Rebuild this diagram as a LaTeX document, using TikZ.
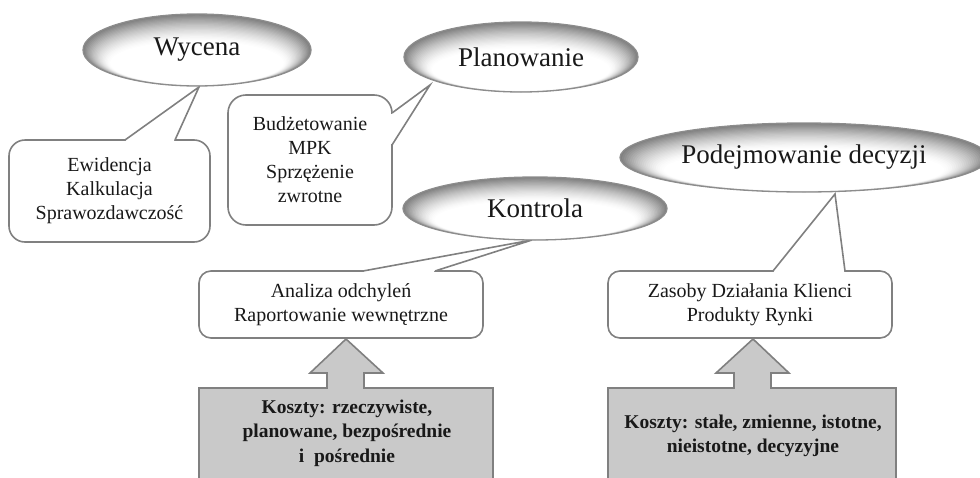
\documentclass[tikz,border=0pt]{standalone}
\usepackage{fontspec}
\setmainfont{Liberation Serif}
\usetikzlibrary{shapes.geometric}
\newcommand\myell[6]{% name, x, y, rx, ry, text
  \begin{scope}
  \clip (#2,#3) ellipse [x radius=#4, y radius=#5];
  \foreach \k in {0,...,24}{
    \pgfmathsetmacro\s{1-\k*0.018}
    \pgfmathsetmacro\sx{1-(1-\s)*0.6}
    \pgfmathsetmacro\c{50*(max(0,(\s-0.6)/0.4))^1.5}
    \fill[black!\c] (#2,{#3+(1-\s)*0.9*#5}) ellipse [x radius={\sx*#4}, y radius={\s*#5}];
  }
  \end{scope}
  \node[ell, minimum width=2*#4, minimum height=2*#5] (#1) at (#2,#3) {#6};
}
\begin{document}
\begin{tikzpicture}[x=1pt,y=-1pt,
  ell/.style={ellipse, draw=black!45, line width=1.3, inner sep=0, font=\fontsize{27}{32}\selectfont, text=black!90},
  cbox/.style={draw=black!50, line width=1.6, fill=white, align=center, inner sep=0, font=\fontsize{20}{24}\selectfont, text=black!90},
  tail/.style={draw=black!50, line width=1.6, line join=miter},
  gblock/.style={draw=black!50, line width=1.6, fill=black!21},
  gtext/.style={align=center, inner sep=0, font=\fontsize{19.5}{24.5}\selectfont\bfseries, text=black!90}]
\useasboundingbox (0,0) rectangle (980,477);
\clip (0,0) rectangle (980,477);

% callout boxes
\node[cbox, minimum width=201, minimum height=102, rounded corners=16] (ewb) at (109.5,191) {Ewidencja\\Kalkulacja\\Sprawozdawczość};
\node[cbox, minimum width=164, minimum height=130, rounded corners=18] (bub) at (310,160) {Budżetowanie\\MPK\\Sprzężenie\\zwrotne};
\node[cbox, minimum width=284, minimum height=67, rounded corners=12] (anb) at (341,304.5) {Analiza odchyleń\\Raportowanie wewnętrzne};
\node[cbox, minimum width=284, minimum height=67, rounded corners=12] (zab) at (750,304.5) {Zasoby Działania Klienci\\Produkty Rynki};

% tails
\coordinate (t1) at (199,87);
\coordinate (t2) at (430,85);
\coordinate (t3) at (532,240);
\coordinate (t4) at (835,194);
\fill[white] (125,140) -- (t1) -- (175,140) -- cycle;
\fill[white] (125.8,139) rectangle (174.2,141);
\draw[tail] (125,140) -- (t1) -- (175,140);
\fill[white] (392,113) -- (t2) -- (392,145) -- cycle;
\fill[white] (391,113.8) rectangle (393,144.2);
\draw[tail] (392,113) -- (t2) -- (392,145);
\fill[white] (363,271) -- (t3) -- (435,271) -- cycle;
\fill[white] (363.8,270) rectangle (434.2,272);
\draw[tail] (363,271) -- (t3) -- (435,271);
\fill[white] (773,271) -- (t4) -- (845,271) -- cycle;
\fill[white] (773.8,270) rectangle (844.2,272);
\draw[tail] (773,271) -- (t4) -- (845,271);

% ellipses
\myell{wyc}{197}{50}{114}{36}{Wycena}
\myell{pla}{521}{57}{117}{35}{Planowanie}
\myell{pod}{804}{157.5}{184}{34.5}{Podejmowanie decyzji}
\myell{kon}{535}{208.5}{132}{31.5}{Kontrola}

% gray blocks with arrows
\draw[gblock] (199,490) -- (199,388) -- (327,388) -- (327,373) -- (310,373) -- (346,339) -- (383,373) -- (364,373) -- (364,388) -- (493,388) -- (493,490);
\draw[gblock] (608,490) -- (608,388) -- (734,388) -- (734,373) -- (716,373) -- (753,339) -- (789,373) -- (771,373) -- (771,388) -- (896,388) -- (896,490);
\node[gtext] (gk1) at (347,433) {Koszty: rzeczywiste,\\planowane, bezpośrednie\\i\ \ pośrednie};
\node[gtext] (gk2) at (753,436) {Koszty: stałe, zmienne, istotne,\\nieistotne, decyzyjne};
\end{tikzpicture}
\end{document}
